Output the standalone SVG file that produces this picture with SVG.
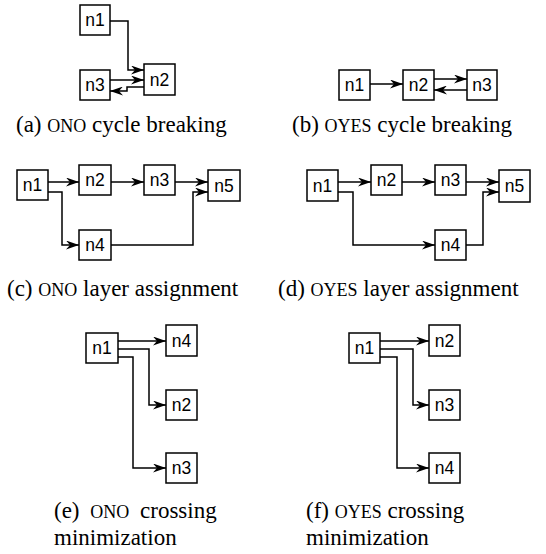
<svg xmlns="http://www.w3.org/2000/svg" width="546" height="554" viewBox="0 0 546 554">
<style>
.box{fill:#fff;stroke:#000;stroke-width:1.5}
.lbl{font-family:"Liberation Sans",Arial,sans-serif;font-size:17.5px;text-anchor:middle;dominant-baseline:central}
.e{fill:none;stroke:#000;stroke-width:1.5;marker-end:url(#arr)}
.cap{font-family:"Liberation Serif","Times New Roman",serif;font-size:23px}
.sc{font-size:18px}
</style>
<defs>
<marker id="arr" viewBox="0 0 13 9" refX="13" refY="4.5" markerWidth="13" markerHeight="9" markerUnits="userSpaceOnUse" orient="auto">
<path d="M0,0 L13,4.5 L0,9 L4,4.5 z" fill="#000"/>
</marker>
</defs>
<g id="connectors">
<path class="e" d="M110,21 H128 V70 H144"/>
<path class="e" d="M110,80 H144"/>
<path class="e" d="M144,87 H127 V91 H110"/>
<path class="e" d="M370,84 H403"/>
<path class="e" d="M434,79 H467"/>
<path class="e" d="M467,90 H434"/>
<path class="e" d="M48,182 H79"/>
<path class="e" d="M111,182 H144"/>
<path class="e" d="M175,182 H208"/>
<path class="e" d="M111,245 H193 V192 H208"/>
<path class="e" d="M48,192 H62 V245 H79"/>
<path class="e" d="M338,182 H371"/>
<path class="e" d="M402,182 H435"/>
<path class="e" d="M466,182 H499"/>
<path class="e" d="M338,192 H353 V245 H435"/>
<path class="e" d="M466,245 H483 V192 H499"/>
<path class="e" d="M118,341 H166"/>
<path class="e" d="M118,349 H149 V405 H166"/>
<path class="e" d="M118,357 H133 V468 H166"/>
<path class="e" d="M380,341 H429"/>
<path class="e" d="M380,349 H413 V405 H429"/>
<path class="e" d="M380,357 H397 V468 H429"/>
</g>
<g id="a_n1"><rect class="box" x="80" y="5" width="30" height="30"/><text class="lbl" x="95" y="20">n1</text></g>
<g id="a_n2"><rect class="box" x="144" y="64" width="31" height="31"/><text class="lbl" x="159.5" y="79.5">n2</text></g>
<g id="a_n3"><rect class="box" x="80" y="70" width="30" height="30"/><text class="lbl" x="95" y="85">n3</text></g>
<g id="b_n1"><rect class="box" x="339" y="70" width="31" height="30"/><text class="lbl" x="354.5" y="85">n1</text></g>
<g id="b_n2"><rect class="box" x="403" y="70" width="31" height="30"/><text class="lbl" x="418.5" y="85">n2</text></g>
<g id="b_n3"><rect class="box" x="467" y="70" width="30" height="30"/><text class="lbl" x="482" y="85">n3</text></g>
<g id="c_n1"><rect class="box" x="17" y="170" width="31" height="30"/><text class="lbl" x="32.5" y="185">n1</text></g>
<g id="c_n2"><rect class="box" x="79" y="165" width="32" height="30"/><text class="lbl" x="95" y="180">n2</text></g>
<g id="c_n3"><rect class="box" x="144" y="165" width="31" height="30"/><text class="lbl" x="159.5" y="180">n3</text></g>
<g id="c_n5"><rect class="box" x="208" y="170" width="32" height="31"/><text class="lbl" x="224" y="185.5">n5</text></g>
<g id="c_n4"><rect class="box" x="79" y="230" width="32" height="30"/><text class="lbl" x="95" y="245">n4</text></g>
<g id="d_n1"><rect class="box" x="307" y="170" width="31" height="31"/><text class="lbl" x="322.5" y="185.5">n1</text></g>
<g id="d_n2"><rect class="box" x="371" y="165" width="31" height="30"/><text class="lbl" x="386.5" y="180">n2</text></g>
<g id="d_n3"><rect class="box" x="435" y="165" width="31" height="30"/><text class="lbl" x="450.5" y="180">n3</text></g>
<g id="d_n5"><rect class="box" x="499" y="170" width="31" height="32"/><text class="lbl" x="514.5" y="186">n5</text></g>
<g id="d_n4"><rect class="box" x="435" y="230" width="31" height="30"/><text class="lbl" x="450.5" y="245">n4</text></g>
<g id="e_n1"><rect class="box" x="86" y="333" width="32" height="30"/><text class="lbl" x="102" y="348">n1</text></g>
<g id="e_n4"><rect class="box" x="166" y="325" width="31" height="31"/><text class="lbl" x="181.5" y="340.5">n4</text></g>
<g id="e_n2"><rect class="box" x="166" y="390" width="31" height="30"/><text class="lbl" x="181.5" y="405">n2</text></g>
<g id="e_n3"><rect class="box" x="166" y="453" width="31" height="30"/><text class="lbl" x="181.5" y="468">n3</text></g>
<g id="f_n1"><rect class="box" x="349" y="333" width="31" height="30"/><text class="lbl" x="364.5" y="348">n1</text></g>
<g id="f_n2"><rect class="box" x="429" y="325" width="31" height="31"/><text class="lbl" x="444.5" y="340.5">n2</text></g>
<g id="f_n3"><rect class="box" x="429" y="390" width="31" height="30"/><text class="lbl" x="444.5" y="405">n3</text></g>
<g id="f_n4"><rect class="box" x="429" y="453" width="31" height="30"/><text class="lbl" x="444.5" y="468">n4</text></g>
<g id="captions">
<text class="cap" x="16" y="132">(a) <tspan class="sc">ONO</tspan> cycle breaking</text>
<text class="cap" x="292" y="132">(b) <tspan class="sc">OYES</tspan> cycle breaking</text>
<text class="cap" x="7" y="296">(c) <tspan class="sc">ONO</tspan> layer assignment</text>
<text class="cap" x="278" y="296">(d) <tspan class="sc">OYES</tspan> layer assignment</text>
<text class="cap" x="54" y="518" word-spacing="5">(e) <tspan class="sc">ONO</tspan> crossing</text>
<text class="cap" x="54" y="545">minimization</text>
<text class="cap" x="306" y="518">(f) <tspan class="sc">OYES</tspan> crossing</text>
<text class="cap" x="306" y="545">minimization</text>
</g>
</svg>
